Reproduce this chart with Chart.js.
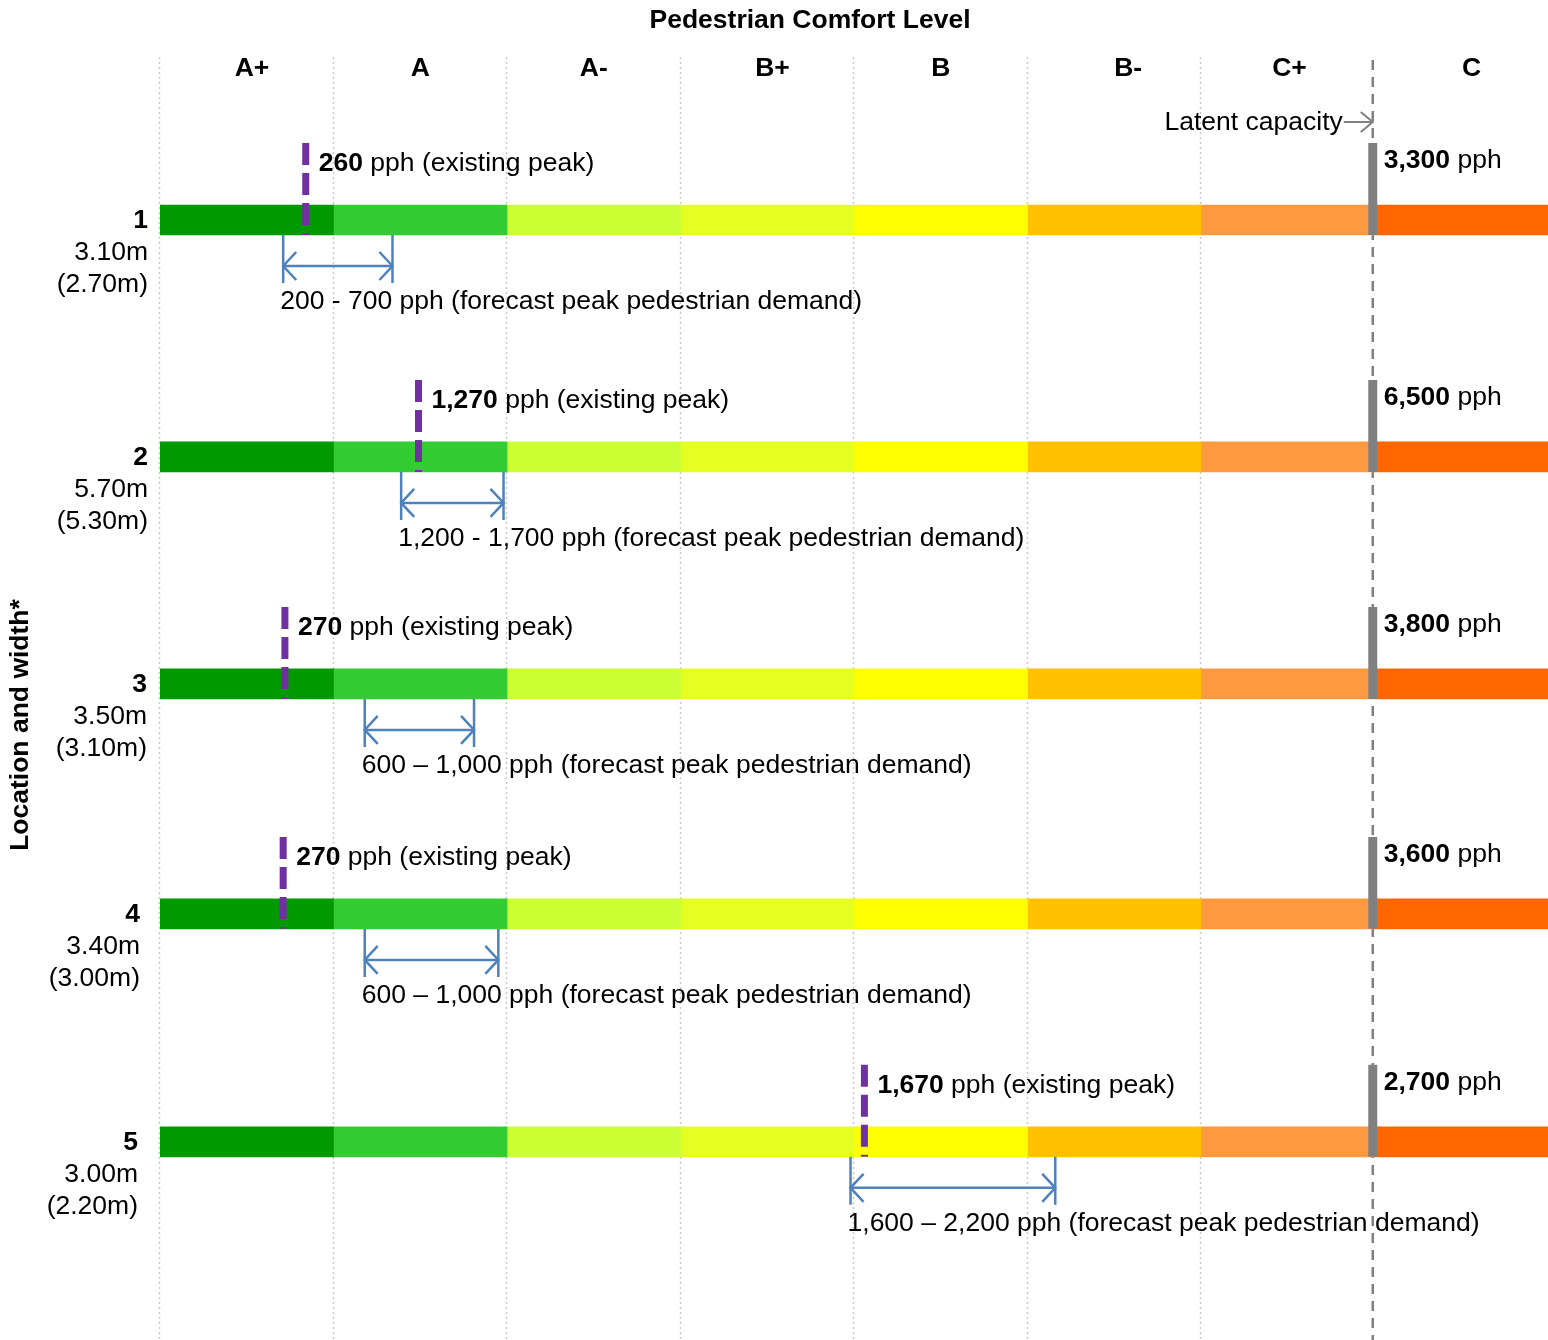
<!DOCTYPE html>
<html>
<head>
<meta charset="utf-8">
<title>Pedestrian Comfort Level</title>
<script src="https://cdn.jsdelivr.net/npm/chart.js@4.4.1/dist/chart.umd.min.js"></script>
<style>
    html, body { margin: 0; padding: 0; background: #ffffff; }
    canvas { display: block; }
</style>
</head>
<body>
<canvas id="comfortChart" width="1548" height="1340"></canvas>
<script>
// Уровни комфорта (одна единица шкалы X на уровень)
const levels = ['A+', 'A', 'A-', 'B+', 'B', 'B-', 'C+', 'C'];
const levelColors = ['#009900', '#33CC33', '#CCFF33', '#E6FF22', '#FFFF00', '#FFC000', '#FE9940', '#FF6600'];
const levelLabelPos = [0.53, 1.5, 2.5, 3.53, 4.5, 5.58, 6.51, 7.56];

// Участки: номер, положение строки, ширина и (эффективная ширина)
const rows = [1, 2, 3, 4, 5];
const rowPos = [1, 2.028, 3.013, 4.011, 5];
const rowWidths = ['3.10m', '5.70m', '3.50m', '3.40m', '3.00m'];
const rowWidthsClear = ['(2.70m)', '(5.30m)', '(3.10m)', '(3.00m)', '(2.20m)'];

// Существующий пик (положение на шкале уровней и подпись)
const existingPos = [0.84, 1.49, 0.72, 0.71, 4.06];
const existingPph = ['260', '1,270', '270', '270', '1,670'];

// Прогнозируемый пиковый спрос (диапазон на шкале уровней)
const forecastFrom = [0.71, 1.39, 1.18, 1.18, 3.98];
const forecastTo = [1.34, 1.98, 1.81, 1.95, 5.16];
const forecastText = ['200 - 700', '1,200 - 1,700', '600 \u2013 1,000', '600 \u2013 1,000', '1,600 \u2013 2,200'];

// Пропускная способность
const capacityPos = [6.99, 6.99, 6.99, 6.99, 6.99];
const capacityPph = ['3,300', '6,500', '3,800', '3,600', '2,700'];
const latentPos = 6.99;

const FONT = '"Liberation Sans", Arial, sans-serif';
const FS = 26.5;
const MARK_TOP = 0.334;    // верх маркеров над центром полосы (в единицах строки)
const MARK_BOTTOM = 0.065; // низ маркеров = нижний край полосы

// Текст с жирной первой частью
function drawMixed(ctx, x, y, boldPart, rest, size) {
    ctx.textAlign = 'left';
    ctx.font = `bold ${size}px ${FONT}`;
    ctx.fillText(boldPart, x, y);
    const w = ctx.measureText(boldPart).width;
    ctx.font = `${size}px ${FONT}`;
    ctx.fillText(rest, x + w, y);
}

// Открытый наконечник стрелки
function drawArrowHead(ctx, tipX, y, dir, len, half) {
    ctx.beginPath();
    ctx.moveTo(tipX + dir * len, y - half);
    ctx.lineTo(tipX, y);
    ctx.lineTo(tipX + dir * len, y + half);
    ctx.stroke();
}

// Сетка и линия латентной пропускной способности
const backgroundPlugin = {
    id: 'comfortBackground',
    beforeDatasetsDraw(chart) {
        const ctx = chart.ctx;
        const xs = chart.scales.x;
        ctx.save();
        ctx.strokeStyle = '#C8C8C8';
        ctx.lineWidth = 1.5;
        ctx.setLineDash([2, 3]);
        for (let i = 0; i < 7; i++) {
            const px = Math.round(xs.getPixelForValue(i)) - 0.5;
            ctx.beginPath();
            ctx.moveTo(px, 57);
            ctx.lineTo(px, chart.height);
            ctx.stroke();
        }
        const lx = xs.getPixelForValue(latentPos);
        ctx.strokeStyle = '#808080';
        ctx.lineWidth = 2.5;
        ctx.setLineDash([10, 7]);
        ctx.beginPath();
        ctx.moveTo(lx, 60);
        ctx.lineTo(lx, chart.height);
        ctx.stroke();
        ctx.restore();
    }
};

// Подписи, стрелки прогноза и заголовки
const annotationPlugin = {
    id: 'comfortAnnotations',
    afterDatasetsDraw(chart) {
        const ctx = chart.ctx;
        const xs = chart.scales.x;
        const ys = chart.scales.y;
        ctx.save();
        ctx.fillStyle = '#000000';
        ctx.textBaseline = 'middle';

        // Заголовок и уровни
        ctx.textAlign = 'center';
        ctx.font = `bold ${FS}px ${FONT}`;
        ctx.fillText('Pedestrian Comfort Level', 810, 21);
        levels.forEach((lvl, i) => {
            ctx.fillText(lvl, xs.getPixelForValue(levelLabelPos[i]), 69);
        });

        // Подпись оси Y
        ctx.save();
        ctx.translate(21, 725);
        ctx.rotate(-Math.PI / 2);
        ctx.fillText('Location and width*', 0, 0);
        ctx.restore();

        // Латентная пропускная способность
        const lx = xs.getPixelForValue(latentPos);
        ctx.textAlign = 'right';
        ctx.font = `${FS}px ${FONT}`;
        ctx.fillText('Latent capacity', lx - 30, 123);
        ctx.strokeStyle = '#808080';
        ctx.lineWidth = 2;
        ctx.beginPath();
        ctx.moveTo(lx - 29, 122);
        ctx.lineTo(lx, 122);
        ctx.stroke();
        drawArrowHead(ctx, lx, 122, -1, 12, 10);

        const rowLabelRight = [148, 148, 147, 140, 138];
        rows.forEach((r, i) => {
            const cy = ys.getPixelForValue(rowPos[i]);

            // Номер участка и ширины
            ctx.textAlign = 'right';
            ctx.font = `bold ${FS}px ${FONT}`;
            ctx.fillText(String(r), rowLabelRight[i], cy + 1);
            ctx.font = `${FS}px ${FONT}`;
            ctx.fillText(rowWidths[i], rowLabelRight[i], cy + 33);
            ctx.fillText(rowWidthsClear[i], rowLabelRight[i], cy + 65);

            // Существующий пик
            drawMixed(ctx, xs.getPixelForValue(existingPos[i]) + 13, cy - 56,
                existingPph[i], ' pph (existing peak)', FS);

            // Пропускная способность
            drawMixed(ctx, xs.getPixelForValue(capacityPos[i]) + 11, cy - 59,
                capacityPph[i], ' pph', FS);

            // Стрелка прогноза
            const x1 = xs.getPixelForValue(forecastFrom[i]);
            const x2 = xs.getPixelForValue(forecastTo[i]);
            const ay = cy + 46;
            ctx.strokeStyle = '#4F81BD';
            ctx.lineWidth = 2.5;
            ctx.beginPath();
            ctx.moveTo(x1, cy + 15);
            ctx.lineTo(x1, cy + 63);
            ctx.moveTo(x2, cy + 15);
            ctx.lineTo(x2, cy + 63);
            ctx.moveTo(x1, ay);
            ctx.lineTo(x2, ay);
            ctx.stroke();
            drawArrowHead(ctx, x1, ay, 1, 13, 14);
            drawArrowHead(ctx, x2, ay, -1, 13, 14);

            ctx.textAlign = 'left';
            ctx.font = `${FS}px ${FONT}`;
            ctx.fillText(forecastText[i] + ' pph (forecast peak pedestrian demand)', x1 - 3, cy + 82);
        });
        ctx.restore();
    }
};

// Создание диаграммы уровней комфорта
function createComfortChart(canvasId) {
    const canvas = document.getElementById(canvasId);
    if (!canvas) return;

    // Полосы уровней для каждого участка
    const levelDatasets = levels.map((lvl, i) => ({
        label: lvl,
        data: rowPos.map(p => ({ y: p, x: [i, i + 1] })),
        backgroundColor: levelColors[i],
        borderWidth: 0,
        barThickness: 30,
        grouped: false,
        order: 10
    }));

    // Вертикальные маркеры пропускной способности
    const capacityDatasets = rowPos.map((p, i) => ({
        type: 'line',
        label: 'capacity ' + rows[i],
        data: [{ x: capacityPos[i], y: p - MARK_TOP }, { x: capacityPos[i], y: p + MARK_BOTTOM }],
        borderColor: '#808080',
        borderWidth: 9,
        borderCapStyle: 'butt',
        pointRadius: 0,
        fill: false,
        order: 3
    }));

    // Пунктирные маркеры существующего пика
    const existingDatasets = rowPos.map((p, i) => ({
        type: 'line',
        label: 'existing ' + rows[i],
        data: [{ x: existingPos[i], y: p - MARK_TOP }, { x: existingPos[i], y: p + MARK_BOTTOM }],
        borderColor: '#7030A0',
        borderWidth: 7,
        borderDash: [22, 8],
        borderCapStyle: 'butt',
        pointRadius: 0,
        fill: false,
        order: 1
    }));

    canvas.chart = new Chart(canvas, {
        type: 'bar',
        data: {
            datasets: [...levelDatasets, ...capacityDatasets, ...existingDatasets]
        },
        options: {
            indexAxis: 'y',
            responsive: false,
            animation: false,
            layout: { padding: { left: 160, top: 55, right: 0, bottom: 0 } },
            plugins: {
                legend: { display: false },
                tooltip: { enabled: false },
                title: { display: false }
            },
            scales: {
                x: { type: 'linear', min: 0, max: 8, offset: false, display: false },
                y: { type: 'linear', min: 0.284, max: 5.86, reverse: true, offset: false, display: false }
            }
        },
        plugins: [backgroundPlugin, annotationPlugin]
    });

    return canvas.chart;
}

createComfortChart('comfortChart');
</script>
</body>
</html>
